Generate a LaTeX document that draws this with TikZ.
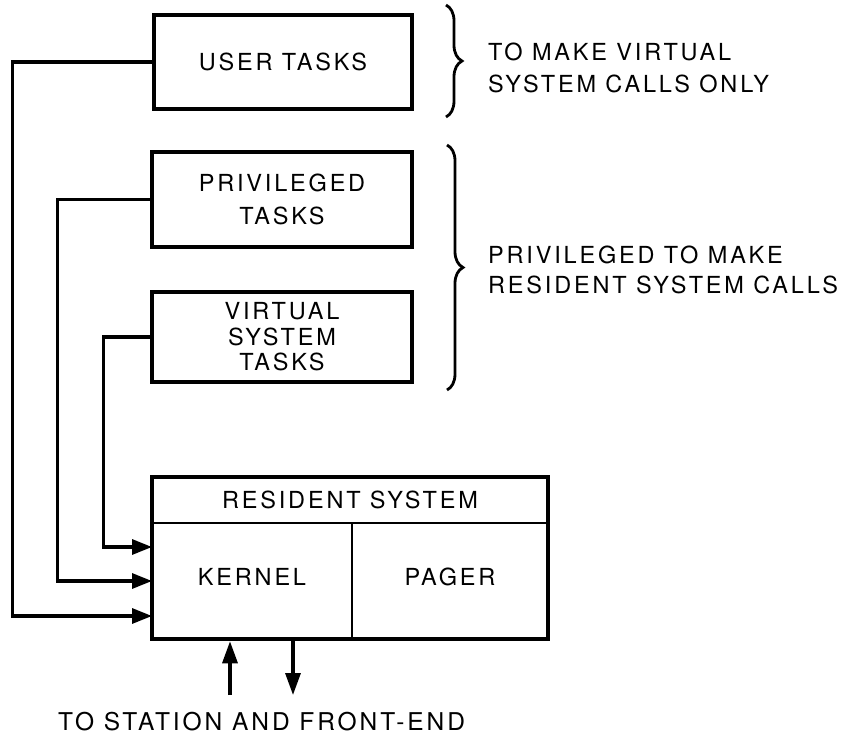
\documentclass[tikz,border=0pt]{standalone}
\usepackage{fontspec}
\setmainfont{TeX Gyre Heros}[LetterSpace=12]
\usetikzlibrary{arrows.meta,decorations.pathreplacing,calc}
\begin{document}
\begin{tikzpicture}[x=1pt,y=-1pt,
  every node/.style={font=\fontsize{23.5}{31}\selectfont, inner sep=0pt},
  taskbox/.style={draw, line width=4.5pt, align=center},
  conn/.style={line width=3.2pt},
  inarrow/.style={conn, -{Triangle[length=20pt,width=15pt]}},
  vertarrow/.style={conn, -{Triangle[length=22pt,width=15pt]}},
  divider/.style={line width=2.8pt},
  brc/.style={line width=2.8pt, decorate, decoration={brace, amplitude=16pt}}]
\useasboundingbox (0,0) rectangle (855,738);
\fill[white] (0,0) rectangle (855,738);

% task boxes
\node[taskbox, minimum width=258pt, minimum height=94pt] (user) at (283,62) {USER TASKS};
\node[taskbox, minimum width=260pt, minimum height=95pt, font=\fontsize{23.5}{33}\selectfont] (priv) at (282,199.5) {PRIVILEGED\\TASKS};
\node[taskbox, minimum width=260pt, minimum height=90pt, font=\fontsize{23.5}{25.5}\selectfont] (virt) at (282,337) {VIRTUAL\\SYSTEM\\TASKS};

% resident system
\node[taskbox, minimum width=396pt, minimum height=162pt] (res) at (350,558) {};
\coordinate (hl) at (152,523);
\coordinate (hr) at (548,523);
\coordinate (vt) at (352,523);
\draw[divider] (hl) -- (hr);
\draw[divider] (vt) -- (vt |- res.south);
\node (rs) at (350,500) {RESIDENT SYSTEM};
\node (kernel) at (252,577) {KERNEL};
\node (pager) at (450,577) {PAGER};

% connectors into kernel
\coordinate (inV) at (152,547);
\coordinate (inP) at (152,581);
\coordinate (inU) at (152,616);
\draw[inarrow] (virt.west) -- ++(-46,0) |- (inV);
\draw[inarrow] (priv.west) -- ++(-92,0) |- (inP);
\draw[inarrow] (user.west) -- ++(-139,0) |- (inU);

% station arrows
\coordinate (upS) at (230,695);
\coordinate (dnE) at (293,695);
\draw[vertarrow] (upS) -- (upS |- res.south);
\draw[vertarrow] (dnE |- res.south) -- (dnE);
\node[anchor=base west, font=\fontsize{24.5}{30}\selectfont] (bt) at (58,730) {TO STATION AND FRONT-END};

% braces
\coordinate (b1t) at (446,5);
\coordinate (b1b) at (446,117);
\coordinate (b2t) at (447,145);
\coordinate (b2b) at (447,390);
\draw[brc] (b1t) -- (b1b);
\draw[brc] (b2t) -- (b2b);
\node[anchor=north west, align=left, font=\fontsize{23.5}{32}\selectfont] (t1) at (488,43) {TO MAKE VIRTUAL\\SYSTEM CALLS ONLY};
\node[anchor=north west, align=left, font=\fontsize{23.5}{30}\selectfont] (t2) at (488,246) {PRIVILEGED TO MAKE\\RESIDENT SYSTEM CALLS};
\end{tikzpicture}
\end{document}
